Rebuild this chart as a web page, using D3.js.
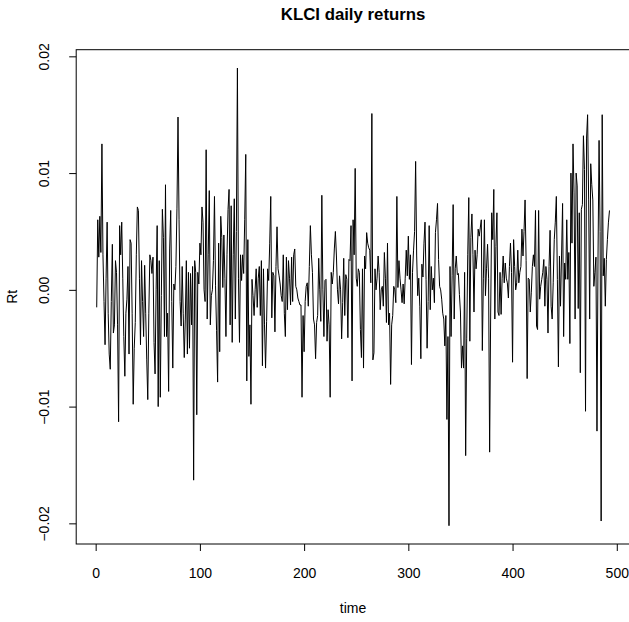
<!DOCTYPE html>
<html lang="en">
<head>
<meta charset="UTF-8">
<title>KLCI daily returns</title>
<script src="https://d3js.org/d3.v7.min.js"></script>
<style>
  body { margin: 0; background: #fff; }
  svg text { font-family: "Liberation Sans", Arial, sans-serif; fill: #000; }
</style>
</head>
<body>
<div id="chart"></div>
<script>
// daily returns, t = 1..493
const returns = [
  -0.0015, 0.0060, 0.0028, 0.0063, 0.0032, 0.0125, 0.0030, -0.0010, -0.0047, 0.0010,
  0.0058, -0.0020, -0.0055, -0.0068, -0.0010, 0.0039, -0.0037, -0.0030, 0.0025, 0.0015,
  -0.0030, -0.0113, 0.0055, 0.0030, 0.0058, 0.0010, -0.0040, -0.0074, -0.0020, -0.0008,
  0.0020, -0.0055, 0.0043, 0.0040, -0.0020, -0.0098, -0.0050, -0.0028, 0.0030, 0.0071,
  0.0068, 0.0010, -0.0047, 0.0025, -0.0010, -0.0040, 0.0021, -0.0020, -0.0060, -0.0094,
  -0.0020, 0.0030, 0.0025, 0.0014, 0.0028, -0.0045, -0.0072, 0.0000, 0.0055, -0.0100,
  0.0025, -0.0092, -0.0005, 0.0069, 0.0045, -0.0040, 0.0090, -0.0040, -0.0020, -0.0087,
  0.0035, 0.0068, -0.0010, -0.0067, 0.0005, 0.0000, 0.0020, 0.0070, 0.0148, 0.0060,
  -0.0010, -0.0031, 0.0020, -0.0020, -0.0058, -0.0025, 0.0025, -0.0055, 0.0015, -0.0050,
  0.0014, -0.0030, 0.0020, -0.0163, 0.0025, 0.0015, -0.0107, 0.0015, 0.0005, 0.0040,
  0.0030, 0.0071, 0.0058, 0.0000, -0.0010, 0.0120, -0.0025, 0.0030, 0.0085, -0.0030,
  -0.0005, 0.0000, 0.0025, 0.0080, 0.0004, -0.0035, -0.0079, 0.0040, -0.0053, 0.0063,
  0.0045, 0.0002, 0.0047, 0.0010, -0.0040, 0.0030, 0.0069, 0.0086, -0.0030, 0.0072,
  -0.0045, 0.0030, 0.0078, -0.0025, 0.0050, 0.0190, 0.0010, -0.0045, 0.0030, 0.0008,
  0.0030, 0.0014, 0.0060, 0.0116, -0.0078, 0.0043, -0.0057, -0.0030, -0.0098, 0.0009,
  -0.0005, -0.0022, 0.0000, 0.0018, -0.0015, 0.0010, 0.0020, -0.0022, 0.0025, -0.0065,
  0.0018, -0.0030, -0.0067, -0.0027, 0.0018, 0.0008, 0.0040, 0.0080, -0.0024, 0.0015,
  0.0012, -0.0036, 0.0020, 0.0054, 0.0018, 0.0012, 0.0005, -0.0005, -0.0010, 0.0030,
  -0.0020, -0.0040, 0.0028, -0.0017, 0.0025, 0.0010, -0.0013, 0.0028, -0.0010, 0.0030,
  0.0035, 0.0003, 0.0000, -0.0007, -0.0010, -0.0013, -0.0013, -0.0092, -0.0022, -0.0053,
  -0.0010, 0.0003, 0.0006, -0.0014, 0.0020, 0.0055, 0.0030, 0.0015, -0.0025, -0.0030,
  -0.0059, -0.0028, -0.0022, 0.0027, 0.0000, -0.0027, 0.0081, 0.0000, -0.0040, 0.0008,
  0.0009, -0.0044, -0.0017, -0.0030, -0.0092, 0.0015, 0.0005, 0.0015, 0.0035, 0.0050,
  0.0029, 0.0000, -0.0012, 0.0012, 0.0000, -0.0042, -0.0011, 0.0027, -0.0022, 0.0013,
  0.0009, -0.0041, 0.0026, 0.0025, 0.0055, -0.0078, 0.0060, 0.0030, 0.0104, 0.0010,
  0.0003, 0.0018, 0.0015, -0.0034, -0.0058, 0.0018, -0.0067, 0.0029, 0.0018, 0.0049,
  0.0040, 0.0036, 0.0034, 0.0006, 0.0151, -0.0060, -0.0054, 0.0018, 0.0000, 0.0010,
  0.0029, 0.0015, -0.0017, 0.0000, 0.0003, -0.0014, 0.0032, 0.0010, -0.0028, 0.0040,
  -0.0030, -0.0020, -0.0081, -0.0030, -0.0022, 0.0003, 0.0000, -0.0011, 0.0080, 0.0002,
  0.0025, 0.0010, 0.0000, -0.0011, 0.0005, -0.0012, 0.0010, 0.0034, 0.0012, 0.0046,
  0.0009, 0.0030, -0.0064, 0.0015, 0.0034, 0.0050, 0.0110, 0.0029, -0.0005, 0.0010,
  -0.0014, -0.0059, 0.0022, 0.0011, 0.0040, 0.0058, 0.0009, -0.0050, -0.0010, 0.0055,
  -0.0017, 0.0020, 0.0000, 0.0010, -0.0011, 0.0049, 0.0060, 0.0074, 0.0026, 0.0003,
  0.0000, -0.0008, -0.0020, -0.0025, -0.0048, -0.0022, -0.0111, -0.0040, -0.0202, 0.0020,
  -0.0040, 0.0012, 0.0073, -0.0025, 0.0018, 0.0029, 0.0013, 0.0014, -0.0004, -0.0019,
  -0.0067, -0.0048, -0.0067, 0.0015, -0.0142, -0.0042, 0.0030, 0.0079, -0.0044, 0.0045,
  0.0065, 0.0030, -0.0019, 0.0034, 0.0018, 0.0030, 0.0052, 0.0046, 0.0053, 0.0060,
  -0.0052, 0.0010, 0.0060, -0.0005, 0.0018, 0.0039, 0.0010, -0.0139, -0.0019, 0.0066,
  0.0043, 0.0086, -0.0025, 0.0037, 0.0066, -0.0019, -0.0022, 0.0015, -0.0021, 0.0010,
  0.0029, 0.0006, 0.0023, 0.0010, 0.0006, -0.0007, 0.0020, 0.0040, 0.0015, -0.0062,
  0.0043, 0.0020, 0.0000, 0.0006, 0.0034, 0.0006, 0.0015, 0.0020, 0.0052, 0.0029,
  0.0050, 0.0077, 0.0025, -0.0076, 0.0010, 0.0009, -0.0019, -0.0002, 0.0020, 0.0030,
  0.0020, 0.0068, -0.0031, -0.0034, 0.0068, -0.0008, 0.0003, 0.0009, 0.0015, 0.0026,
  -0.0014, 0.0020, 0.0009, -0.0037, 0.0020, 0.0051, -0.0014, -0.0025, 0.0006, 0.0043,
  0.0058, 0.0080, 0.0009, -0.0066, 0.0029, -0.0014, 0.0029, 0.0074, -0.0040, 0.0023,
  0.0009, 0.0060, 0.0009, 0.0032, -0.0046, 0.0100, 0.0040, 0.0125, 0.0083, -0.0025,
  0.0100, 0.0089, -0.0016, 0.0066, -0.0071, 0.0069, 0.0073, 0.0132, 0.0103, -0.0104,
  0.0130, 0.0150, 0.0077, -0.0025, 0.0108, 0.0090, 0.0077, 0.0003, 0.0015, 0.0028,
  -0.0121, 0.0029, 0.0128, 0.0050, -0.0198, 0.0150, 0.0012, 0.0027, -0.0014, 0.0026,
  0.0043, 0.0058, 0.0068
];

const xTicks = [0, 100, 200, 300, 400, 500];
const yTicks = [-0.02, -0.01, 0, 0.01, 0.02];
const yTickLabels = ["\u22120.02", "\u22120.01", "0.00", "0.01", "0.02"];

const width = 629, height = 622;
const plotLeft = 76.2, plotTop = 49.7, plotBottom = 544, plotRight = 630;

const svg = d3.select("#chart").append("svg")
    .attr("width", width)
    .attr("height", height);

// R style axis ranges: data range padded by 4% each side
const n = returns.length;
const xPad = 0.04 * (n - 1);
const x = d3.scaleLinear().domain([1 - xPad, n + xPad]).range([plotLeft, plotRight]);

const yMin = d3.min(returns), yMax = d3.max(returns);
const yPad = 0.04 * (yMax - yMin);
const y = d3.scaleLinear().domain([yMin - yPad, yMax + yPad]).range([plotBottom, plotTop]);

// series
const line = d3.line()
    .x((d, i) => x(i + 1))
    .y(d => y(d));

svg.append("path")
    .datum(returns)
    .attr("d", line)
    .attr("fill", "none")
    .attr("stroke", "#000")
    .attr("stroke-width", 1);

// box
svg.append("rect")
    .attr("x", plotLeft).attr("y", plotTop)
    .attr("width", plotRight - plotLeft).attr("height", plotBottom - plotTop)
    .attr("fill", "none").attr("stroke", "#000").attr("stroke-width", 1);

// x axis
const xAxis = svg.append("g")
    .attr("transform", `translate(0,${plotBottom})`)
    .call(d3.axisBottom(x).tickValues(xTicks).tickSize(7).tickSizeOuter(0).tickPadding(0));
xAxis.select(".domain").remove();
xAxis.selectAll("line").attr("stroke", "#000");
xAxis.selectAll("text")
    .attr("y", 34).attr("dy", null)
    .style("font-size", "14px");

// y axis
const yAxis = svg.append("g")
    .attr("transform", `translate(${plotLeft},0)`)
    .call(d3.axisLeft(y).tickValues(yTicks).tickSize(7).tickSizeOuter(0)
        .tickFormat((d, i) => yTickLabels[i]));
yAxis.select(".domain").remove();
yAxis.selectAll("line").attr("stroke", "#000");
yAxis.selectAll("text")
    .attr("x", null).attr("dy", null)
    .attr("text-anchor", "middle")
    .attr("transform", "translate(-27,0) rotate(-90)")
    .style("font-size", "14px");

// titles
svg.append("text")
    .attr("x", (plotLeft + plotRight) / 2).attr("y", 20)
    .attr("text-anchor", "middle")
    .style("font-size", "16.8px").style("font-weight", "bold")
    .text("KLCI daily returns");

svg.append("text")
    .attr("x", (plotLeft + plotRight) / 2).attr("y", 613)
    .attr("text-anchor", "middle")
    .style("font-size", "14px")
    .text("time");

svg.append("text")
    .attr("transform", `translate(17,${(plotTop + plotBottom) / 2}) rotate(-90)`)
    .attr("text-anchor", "middle")
    .style("font-size", "14px")
    .text("Rt");
</script>
</body>
</html>
